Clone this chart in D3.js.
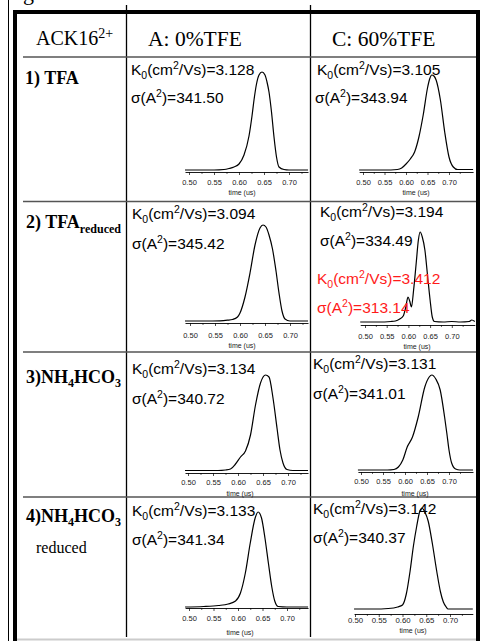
<!DOCTYPE html>
<html><head><meta charset="utf-8">
<script src="https://cdn.jsdelivr.net/npm/d3@7"></script>
<style>html,body{margin:0;padding:0;background:#fff;} svg{display:block;}</style>
</head><body><svg id="c" width="480" height="641"></svg>
<script>
// ---------------- DATA ----------------
const cornerTitle = "ACK16";
const cornerCharge = "2+";
const columnTitles = ["A: 0%TFE", "C: 60%TFE"];
const k0Values = [["3.128", "3.105"], ["3.094", "3.194"], ["3.134", "3.131"], ["3.133", "3.142"]];
const sigmaValues = [["341.50", "343.94"], ["345.42", "334.49"], ["340.72", "341.01"], ["341.34", "340.37"]];
const extraK0 = "3.412";
const extraSigma = "313.14";
const tickValues = [0.50, 0.55, 0.60, 0.65, 0.70];
const tickLabels = ["0.50", "0.55", "0.60", "0.65", "0.70"];
const minorTickValues = [0.525, 0.575, 0.625, 0.675, 0.725];
const xAxisTitle = "time (us)";

// arrival-time distributions (time in us, relative intensity)
const tfaA_t = [0.492, 0.52, 0.55, 0.57, 0.58, 0.59, 0.60, 0.61, 0.62, 0.626, 0.63, 0.635, 0.64, 0.646, 0.652, 0.656, 0.66, 0.665, 0.67, 0.675, 0.68, 0.69, 0.70, 0.738];
const tfaA_i = [0.02, 0.02, 0.02, 0.025, 0.035, 0.05, 0.08, 0.17, 0.36, 0.56, 0.72, 0.88, 0.97, 1.0, 0.97, 0.9, 0.8, 0.6, 0.35, 0.15, 0.05, 0.025, 0.02, 0.02];

const tfaC_t = [0.491, 0.52, 0.55, 0.58, 0.59, 0.60, 0.61, 0.62, 0.63, 0.64, 0.65, 0.655, 0.66, 0.665, 0.67, 0.68, 0.69, 0.70, 0.71, 0.72, 0.74, 0.756];
const tfaC_i = [0.02, 0.02, 0.02, 0.025, 0.04, 0.08, 0.13, 0.2, 0.35, 0.57, 0.84, 0.93, 0.97, 0.96, 0.92, 0.72, 0.4, 0.15, 0.05, 0.025, 0.025, 0.025];

const tfrA_t = [0.49, 0.53, 0.56, 0.575, 0.585, 0.595, 0.60, 0.61, 0.62, 0.63, 0.64, 0.646, 0.652, 0.658, 0.665, 0.672, 0.678, 0.684, 0.69, 0.70, 0.736];
const tfrA_i = [0.02, 0.02, 0.022, 0.028, 0.035, 0.06, 0.1, 0.26, 0.5, 0.78, 0.95, 0.98, 0.96, 0.88, 0.74, 0.52, 0.3, 0.12, 0.04, 0.02, 0.02];

const tfrC_t = [0.489, 0.53, 0.56, 0.57, 0.58, 0.588, 0.594, 0.599, 0.603, 0.607, 0.612, 0.618, 0.623, 0.627, 0.632, 0.638, 0.644, 0.65, 0.655, 0.66, 0.68, 0.70, 0.72, 0.74, 0.746, 0.753];
const tfrC_i = [0.03, 0.03, 0.035, 0.04, 0.06, 0.09, 0.18, 0.28, 0.24, 0.18, 0.35, 0.62, 0.85, 0.93, 0.88, 0.75, 0.5, 0.25, 0.08, 0.035, 0.03, 0.035, 0.03, 0.035, 0.05, 0.035];

const nhA_t = [0.494, 0.53, 0.56, 0.575, 0.585, 0.595, 0.605, 0.615, 0.625, 0.635, 0.645, 0.655, 0.662, 0.67, 0.678, 0.684, 0.69, 0.698, 0.71, 0.74];
const nhA_i = [0.025, 0.025, 0.025, 0.03, 0.04, 0.09, 0.16, 0.22, 0.38, 0.68, 0.9, 0.98, 0.96, 0.75, 0.45, 0.23, 0.1, 0.035, 0.025, 0.025];

const nhC_t = [0.493, 0.53, 0.56, 0.575, 0.585, 0.595, 0.605, 0.617, 0.63, 0.645, 0.655, 0.661, 0.67, 0.68, 0.69, 0.695, 0.70, 0.706, 0.715, 0.725, 0.7545];
const nhC_i = [0.02, 0.02, 0.02, 0.025, 0.05, 0.12, 0.25, 0.35, 0.55, 0.85, 0.95, 0.97, 0.93, 0.82, 0.55, 0.39, 0.22, 0.09, 0.03, 0.02, 0.02];

const nhrA_t = [0.492, 0.53, 0.56, 0.58, 0.595, 0.605, 0.615, 0.625, 0.635, 0.641, 0.648, 0.655, 0.662, 0.669, 0.675, 0.682, 0.70, 0.743];
const nhrA_i = [0.01, 0.015, 0.025, 0.04, 0.07, 0.15, 0.35, 0.65, 0.9, 0.96, 0.9, 0.7, 0.45, 0.21, 0.07, 0.015, 0.01, 0.01];

const nhrC_t = [0.498, 0.54, 0.57, 0.59, 0.60, 0.608, 0.616, 0.623, 0.63, 0.636, 0.641, 0.647, 0.654, 0.663, 0.672, 0.68, 0.686, 0.692, 0.696, 0.72, 0.748];
const nhrC_i = [0.05, 0.05, 0.055, 0.07, 0.09, 0.2, 0.43, 0.68, 0.88, 1.02, 1.06, 1.02, 0.93, 0.7, 0.43, 0.22, 0.12, 0.07, 0.05, 0.05, 0.05];

const series = [[tfaA_t, tfaA_i], [tfaC_t, tfaC_i], [tfrA_t, tfrA_i], [tfrC_t, tfrC_i],
                [nhA_t, nhA_i], [nhC_t, nhC_i], [nhrA_t, nhrA_i], [nhrC_t, nhrC_i]];

// ---------------- LAYOUT ----------------
const frames = [
  {p50: 189, p70: 289, axisY: 172, tickY: 182, titleX: 242, titleY: 193, k0: [131, 75], sig: [131, 103], fs: 7.5},
  {p50: 363, p70: 449, axisY: 172, tickY: 182, titleX: 416, titleY: 193, k0: [317, 75], sig: [315, 103], fs: 7.5},
  {p50: 190, p70: 290, axisY: 323, tickY: 335, titleX: 242, titleY: 346, k0: [132, 219], sig: [132, 249], fs: 7.5},
  {p50: 365, p70: 451.8, axisY: 325, tickY: 336, titleX: 417, titleY: 347, k0: [320, 217], sig: [320, 246], fs: 7.5},
  {p50: 188, p70: 288, axisY: 473, tickY: 482, titleX: 240, titleY: 494, k0: [132, 374], sig: [132, 404], fs: 7.5},
  {p50: 361, p70: 449, axisY: 472, tickY: 481, titleX: 415, titleY: 494, k0: [313, 369], sig: [313, 399], fs: 7.5},
  {p50: 189, p70: 287, axisY: 608, tickY: 618, titleX: 240, titleY: 633, k0: [132, 516], sig: [132, 545], fs: 7.5},
  {p50: 355, p70: 450, axisY: 614, tickY: 620, titleX: 413, titleY: 630.5, k0: [313, 514], sig: [313, 543], fs: 7.8}
];
const SANS = "'Liberation Sans', Arial, sans-serif";
const SERIF = "'Liberation Serif', 'Times New Roman', serif";

const svg = d3.select('#c');

// ---------------- TABLE FRAME ----------------
const frame = svg.append('g');
frame.append('line').attr('x1', 8.5).attr('x2', 8.5).attr('y1', 0).attr('y2', 641).attr('stroke', '#000').attr('stroke-width', 1);
frame.append('rect').attr('x', 13).attr('y', 10).attr('width', 4).attr('height', 631).attr('fill', '#000');
frame.append('rect').attr('x', 13).attr('y', 10).attr('width', 467).attr('height', 4).attr('fill', '#000');
frame.append('rect').attr('x', 476).attr('y', 10).attr('width', 4).attr('height', 631).attr('fill', '#000');
[126.5, 310.5].forEach(xv => frame.append('line').attr('x1', xv).attr('x2', xv).attr('y1', 5).attr('y2', 637)
  .attr('stroke', '#000').attr('stroke-width', 1.3));
[57, 201.5, 352, 497].forEach(yv => frame.append('line').attr('x1', 23).attr('x2', 476).attr('y1', yv).attr('y2', yv)
  .attr('stroke', '#555').attr('stroke-width', 1.5));
frame.append('line').attr('x1', 17).attr('x2', 476).attr('y1', 639.5).attr('y2', 639.5).attr('stroke', '#ccc').attr('stroke-width', 2);
svg.append('text').attr('x', 23).attr('y', 0).attr('font-family', SERIF).attr('font-size', 22).text('g');

// ---------------- HEADER ----------------
const hd = svg.append('text').attr('x', 36).attr('y', 45).attr('font-family', SERIF).attr('font-size', 20);
hd.append('tspan').text(cornerTitle);
hd.append('tspan').attr('font-size', 14).attr('dy', -7).text(cornerCharge);
svg.append('text').attr('x', 148).attr('y', 46).attr('font-family', SERIF).attr('font-size', 21.5).text(columnTitles[0]);
svg.append('text').attr('x', 332).attr('y', 46).attr('font-family', SERIF).attr('font-size', 21.5).text(columnTitles[1]);

// ---------------- ROW LABELS ----------------
const rl1 = svg.append('text').attr('x', 25).attr('y', 84).attr('font-family', SERIF).attr('font-size', 18).attr('font-weight', 'bold');
rl1.text('1) TFA');
const rl2 = svg.append('text').attr('x', 26).attr('y', 228).attr('font-family', SERIF).attr('font-size', 18).attr('font-weight', 'bold');
rl2.append('tspan').text('2) TFA');
rl2.append('tspan').attr('font-size', 12).attr('dy', 5).text('reduced');
function nh4(yv, prefix) {
  const t = svg.append('text').attr('x', 26).attr('y', yv).attr('font-family', SERIF).attr('font-size', 18).attr('font-weight', 'bold');
  t.append('tspan').text(prefix + 'NH');
  t.append('tspan').attr('font-size', 12).attr('dy', 4).text('4');
  t.append('tspan').attr('dy', -4).text('HCO');
  t.append('tspan').attr('font-size', 12).attr('dy', 4).text('3');
}
nh4(383, '3)');
nh4(522, '4)');
svg.append('text').attr('x', 36).attr('y', 553).attr('font-family', SERIF).attr('font-size', 16).text('reduced');

// ---------------- ANNOTATIONS ----------------
function k0Text(pos, val, color) {
  const t = svg.append('text').attr('x', pos[0]).attr('y', pos[1]).attr('font-family', SANS).attr('font-size', 15.5).attr('fill', color);
  t.append('tspan').text('K');
  t.append('tspan').attr('font-size', 10.5).attr('dy', 4).text('0');
  t.append('tspan').attr('dy', -4).text('(cm');
  t.append('tspan').attr('font-size', 10.5).attr('dy', -6).text('2');
  t.append('tspan').attr('dy', 6).text('/Vs)=' + val);
}
function sigText(pos, val, color) {
  const t = svg.append('text').attr('x', pos[0]).attr('y', pos[1]).attr('font-family', SANS).attr('font-size', 15.5).attr('fill', color);
  t.append('tspan').text('σ(A');
  t.append('tspan').attr('font-size', 10.5).attr('dy', -6).text('2');
  t.append('tspan').attr('dy', 6).text(')=' + val);
}

// ---------------- PLOTS ----------------
series.forEach((s, idx) => {
  const L = frames[idx];
  const row = Math.floor(idx / 2), col = idx % 2;
  const x = d3.scaleLinear().domain([0.5, 0.7]).range([L.p50, L.p70]);
  const ext = d3.extent(s[0]);
  const xs = d3.scaleLinear().domain(ext).range(ext.map(x));
  const y = d3.scaleLinear().domain([0, 1]).range([L.axisY, L.axisY - 100]);
  const data = s[0].map((t, k) => [t, s[1][k]]);

  const g = svg.append('g').attr('transform', `translate(0,${L.axisY})`);
  g.call(d3.axisBottom(xs).tickValues(tickValues).tickFormat((d, k) => tickLabels[k]).tickSize(3).tickSizeOuter(0));
  g.attr('font-family', SANS).attr('font-size', L.fs);
  g.select('.domain').attr('stroke', '#000').attr('stroke-width', 0.9);
  g.selectAll('.tick line').attr('stroke', '#000').attr('stroke-width', 0.7);
  g.selectAll('.tick text').attr('y', L.tickY - L.axisY).attr('dy', '0.35em').attr('fill', '#222');
  const gm = svg.append('g').attr('transform', `translate(0,${L.axisY})`);
  gm.call(d3.axisBottom(xs).tickValues(minorTickValues).tickFormat('').tickSize(2).tickSizeOuter(0));
  gm.select('.domain').remove();
  gm.selectAll('.tick line').attr('stroke', '#000').attr('stroke-width', 0.6);

  svg.append('text').attr('x', L.titleX).attr('y', L.titleY).attr('dy', '0.35em').attr('text-anchor', 'middle')
    .attr('font-family', SANS).attr('font-size', 7).attr('fill', '#222').text(xAxisTitle);

  svg.append('path').datum(data)
    .attr('d', d3.line().x(d => xs(d[0])).y(d => y(d[1])).curve(d3.curveMonotoneX))
    .attr('fill', 'none').attr('stroke', '#000').attr('stroke-width', 1.2);

  k0Text(L.k0, k0Values[row][col], '#000');
  sigText(L.sig, sigmaValues[row][col], '#000');
});
k0Text([317, 284], extraK0, '#ff1a1a');
sigText([317, 313], extraSigma, '#ff1a1a');
</script></body></html>
